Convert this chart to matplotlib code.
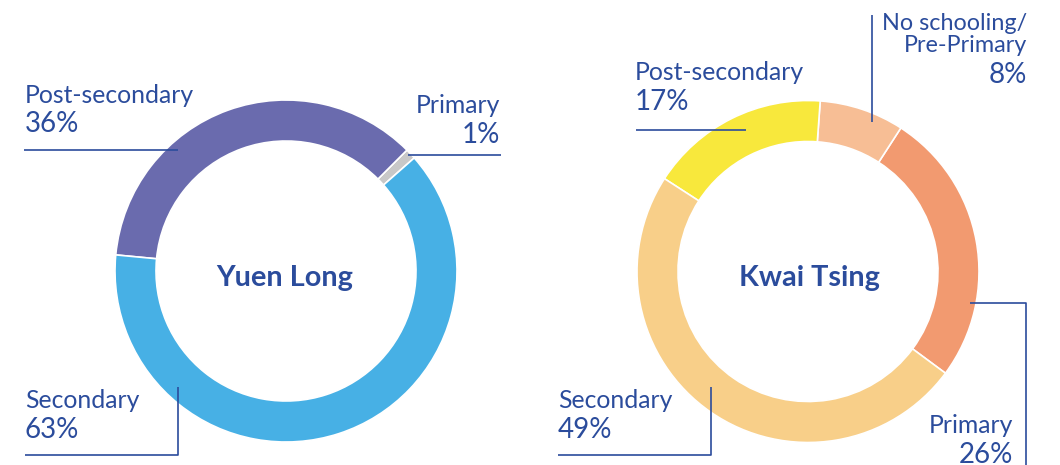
import matplotlib
matplotlib.use("Agg")
import matplotlib.pyplot as plt

# ---- data ----
yl_categories = ["Primary", "Post-secondary", "Secondary"]
yl_values = [1, 36, 63]
kt_categories = ["Primary", "No schooling/\nPre-Primary", "Post-secondary", "Secondary"]
kt_values = [26, 8, 17, 49]
titles = ["Yuen Long", "Kwai Tsing"]

yl_colors = ["#C8C8C8", "#6A6BAE", "#47B0E5"]
kt_colors = ["#F29A70", "#F7BE95", "#F8E83C", "#F8CF89"]
TXT = "#2B4C9C"
FONT = "Lato"

W, H = 1060, 465
fig = plt.figure(figsize=(W / 100, H / 100), dpi=100)
ax = fig.add_axes([0, 0, 1, 1])

def Y(y):
    return H - y

# donuts
R = 171
width = 41
ax.pie(yl_values, colors=yl_colors, startangle=41.4, counterclock=True,
       center=(286, Y(271)), radius=R,
       wedgeprops=dict(width=width, edgecolor="white", linewidth=1.2))
ax.pie(kt_values, colors=kt_colors, startangle=-36.5, counterclock=True,
       center=(808, Y(271.5)), radius=R,
       wedgeprops=dict(width=width, edgecolor="white", linewidth=1.2))
ax.set_xlim(0, W)
ax.set_ylim(0, H)
ax.set_aspect("equal")
ax.axis("off")

# centre titles
ax.text(285, Y(286), titles[0], ha="center", va="baseline", fontsize=20.8,
        fontweight="bold", color=TXT, family=FONT)
ax.text(809, Y(286), titles[1], ha="center", va="baseline", fontsize=20.8,
        fontweight="bold", color=TXT, family=FONT)

NS, PS = 17.8, 20

def label(x, y_name, y_pct, name, pct, ha, ns=NS):
    ax.text(x, Y(y_name), name, ha=ha, va="baseline", fontsize=ns, color=TXT,
            family=FONT, linespacing=1.05)
    ax.text(x, Y(y_pct), f"{pct}%", ha=ha, va="baseline", fontsize=PS,
            color=TXT, family=FONT)

def line(xs, ys):
    ax.plot(xs, [Y(v) for v in ys], color=TXT, lw=1.2, solid_capstyle="butt")

# Yuen Long labels
label(25, 103, 132, yl_categories[1], yl_values[1], "left")
line([24, 178], [150, 150])
label(500, 113, 143, yl_categories[0], yl_values[0], "right")
line([408, 501], [155, 155])
label(25, 408, 438, yl_categories[2], yl_values[2], "left")
line([178, 178, 25], [387, 455, 455])

# Kwai Tsing labels
label(1027, 52, 83, kt_categories[1], kt_values[1], "right", ns=16.8)
line([872, 872], [15, 122])
label(635, 80, 110, kt_categories[2], kt_values[2], "left")
line([636, 746], [130, 130])
label(1013, 433, 463, kt_categories[0], kt_values[0], "right")
line([970, 1026, 1026], [303, 303, 465])
label(558, 408, 438, kt_categories[3], kt_values[3], "left")
line([711, 711, 558], [387, 455, 455])

fig.savefig("out.png", dpi=100, facecolor="white")
